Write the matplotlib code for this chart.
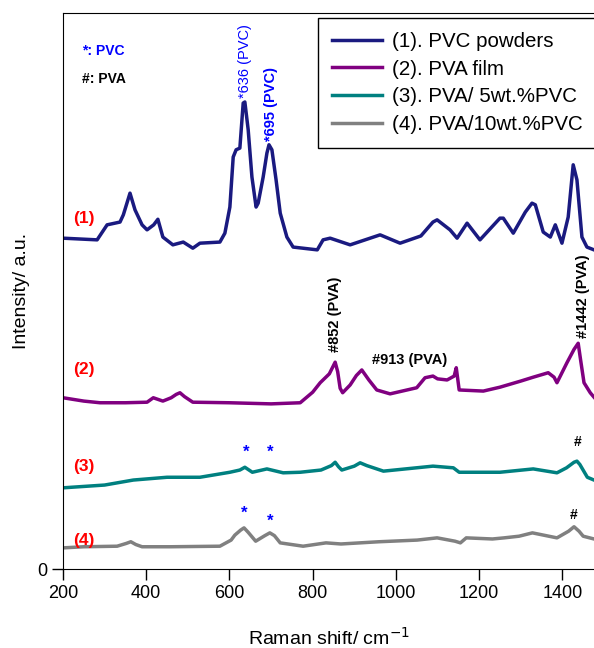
import matplotlib
matplotlib.use("Agg")
import matplotlib.pyplot as plt

plt.rcParams["font.family"] = ["Liberation Sans", "DejaVu Sans"]

# Raman shift (cm-1) and intensity (a.u.)
x1 = [200, 282, 306, 337, 345, 361, 373, 390, 402, 418, 428, 440, 464, 489, 512, 529, 577, 589,
      601, 609, 616, 625, 633, 637, 645, 654, 664, 669, 681, 690, 695, 702, 712, 722, 738, 753,
      811, 825, 842, 890, 962, 1010, 1060, 1089, 1099, 1130, 1147, 1171, 1202, 1250, 1258, 1282,
      1311, 1327, 1335, 1354, 1371, 1383, 1399, 1414, 1426, 1435, 1447, 1459, 1476]
y1 = [59.5, 59.2, 61.9, 62.4, 63.7, 67.6, 64.6, 61.9, 61.0, 61.9, 62.9, 59.7, 58.3, 58.8, 57.7,
      58.6, 58.8, 60.4, 65.1, 74.1, 75.4, 75.7, 83.8, 84.0, 79.0, 70.5, 65.1, 65.8, 70.5, 74.8,
      76.3, 75.4, 70.0, 64.0, 59.7, 57.9, 57.4, 59.2, 59.5, 58.3, 60.1, 58.6, 59.9, 62.4, 62.8,
      61.0, 59.5, 62.2, 59.2, 63.1, 63.1, 60.4, 64.2, 65.8, 65.5, 60.6, 59.7, 61.9, 58.6, 63.3,
      72.7, 70.0, 59.7, 57.9, 57.4]

x2 = [200, 250, 289, 350, 402, 417, 440, 460, 472, 481, 492, 512, 600, 700, 770, 800, 818, 840,
      848, 854, 860, 866, 872, 890, 905, 918, 935, 954, 986, 1050, 1070, 1089, 1100, 1123, 1140,
      1145, 1152, 1210, 1250, 1300, 1330, 1366, 1380, 1387, 1411, 1428, 1438, 1444, 1452, 1467,
      1476]
y2 = [30.8, 30.2, 29.9, 29.9, 30.0, 30.8, 30.2, 30.8, 31.4, 31.7, 31.0, 30.0, 29.9, 29.7, 29.9,
      31.8, 33.5, 35.1, 36.3, 37.2, 35.5, 32.5, 31.7, 33.1, 34.8, 35.8, 34.0, 32.2, 31.5, 32.6,
      34.4, 34.7, 34.2, 34.0, 34.7, 36.2, 32.2, 32.0, 32.7, 33.8, 34.5, 35.3, 34.5, 33.5, 37.1,
      39.5, 40.6, 37.5, 33.5, 31.7, 30.9]

x3 = [200, 300, 369, 450, 529, 601, 625, 637, 655, 690, 729, 770, 820, 845, 854, 862, 870, 900,
      914, 930, 970, 1089, 1138, 1152, 1250, 1330, 1387, 1410, 1428, 1435, 1442, 1460, 1476]
y3 = [14.6, 15.1, 16.0, 16.5, 16.5, 17.4, 17.8, 18.3, 17.4, 18.0, 17.3, 17.4, 17.8, 18.6, 19.2,
      18.4, 17.8, 18.5, 19.1, 18.6, 17.6, 18.5, 18.2, 17.4, 17.4, 18.0, 17.3, 18.2, 19.2, 19.4,
      18.8, 16.5, 16.0]

x4 = [200, 250, 330, 352, 363, 375, 390, 457, 577, 604, 613, 627, 635, 645, 663, 685, 697, 708,
      722, 777, 832, 868, 959, 1051, 1099, 1142, 1155, 1169, 1232, 1260, 1296, 1328, 1387, 1415,
      1428, 1440, 1450, 1476]
y4 = [3.8, 4.0, 4.1, 4.6, 4.9, 4.4, 4.0, 4.0, 4.1, 5.2, 6.1, 7.0, 7.4, 6.6, 5.0, 6.0, 6.5, 6.0,
      4.7, 4.1, 4.7, 4.5, 4.9, 5.2, 5.6, 5.0, 4.7, 5.6, 5.4, 5.6, 5.9, 6.5, 5.6, 6.8, 7.6, 6.8,
      5.9, 5.4]

labels = ["(1). PVC powders", "(2). PVA film", "(3). PVA/ 5wt.%PVC", "(4). PVA/10wt.%PVC"]
colors = ["#1a1a80", "#800080", "#008080", "#808080"]

fig = plt.figure(figsize=(5.94, 6.48), dpi=100)
ax = fig.add_axes([63 / 594, 1 - 569 / 648, 531 / 594, 556 / 648])

for xs, ys, lab, c in zip([x1, x2, x3, x4], [y1, y2, y3, y4], labels, colors):
    ax.plot(xs, ys, color=c, lw=2.5, label=lab, solid_joinstyle="round")

ax.set_xlim(200, 1476)
ax.set_ylim(0, 100)
ax.set_xticks([200, 400, 600, 800, 1000, 1200, 1400])
ax.set_yticks([0])
ax.tick_params(direction="out", length=8, width=1, labelsize=13)
ax.spines["right"].set_visible(False)

ax.set_xlabel("Raman shift/ cm$^{-1}$", fontsize=14)
ax.xaxis.set_label_coords(0.5, -0.105)
ax.set_ylabel("Intensity/ a.u.", fontsize=14)
ax.yaxis.set_label_coords(-0.062, 0.5)

leg = ax.legend(loc="upper left", bbox_to_anchor=(0.48, 0.991, 0.6, 0), mode="expand",
                borderaxespad=0, fontsize=14.8, frameon=True, fancybox=False,
                edgecolor="black", framealpha=1, handlelength=2.45, handletextpad=0.5,
                labelspacing=0.42, borderpad=0.68)
leg.get_frame().set_linewidth(1)

# key
ax.text(245, 93.2, "*: PVC", color="blue", fontsize=10, fontweight="bold", va="center")
ax.text(245, 88.2, "#: PVA", color="black", fontsize=10, fontweight="bold", va="center")

# peak annotations
ax.text(638, 84.8, "*636 (PVC)", color="blue", fontsize=10.5, rotation=90, ha="center", va="bottom")
ax.text(701, 77.0, "*695 (PVC)", color="blue", fontsize=10.5, fontweight="bold", rotation=90,
        ha="center", va="bottom")
ax.text(854, 39.0, "#852 (PVA)", color="black", fontsize=10.5, fontweight="bold", rotation=90,
        ha="center", va="bottom")
ax.text(1034, 37.6, "#913 (PVA)", color="black", fontsize=10.5, fontweight="bold",
        ha="center", va="center")
ax.text(1450, 41.5, "#1442 (PVA)", color="black", fontsize=10.5, fontweight="bold", rotation=90,
        ha="center", va="bottom")

# curve numbers
for yy, t in zip([63.0, 35.8, 18.5, 5.2], ["(1)", "(2)", "(3)", "(4)"]):
    ax.text(250, yy, t, color="red", fontsize=12.5, fontweight="bold", ha="center", va="center")

# markers above weak curves
for xx, yy in [(640, 21.0), (698, 21.0), (635, 10.1), (697, 8.6)]:
    ax.text(xx, yy, "*", color="blue", fontsize=12, fontweight="bold", ha="center", va="center")
for xx, yy in [(1436, 22.8), (1428, 9.8)]:
    ax.text(xx, yy, "#", color="black", fontsize=10, fontweight="bold", ha="center", va="center")

fig.savefig("out.png", dpi=100)
